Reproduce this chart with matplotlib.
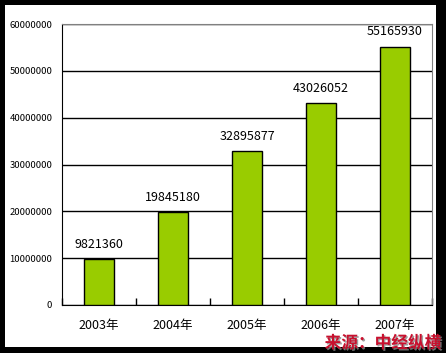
import matplotlib
matplotlib.use('Agg')
import numpy as np
from matplotlib import pyplot as plt
from matplotlib.patches import Rectangle
import matplotlib.patheffects as pe

plt.rcParams['font.family'] = ['Noto Sans CJK SC', 'DejaVu Sans']

years = ['2003年', '2004年', '2005年', '2006年', '2007年']
values = [9821360, 19845180, 32895877, 43026052, 55165930]
yticks = [0, 10000000, 20000000, 30000000, 40000000, 50000000, 60000000]

fig = plt.figure(figsize=(4.46, 3.53), dpi=100)
fig.patch.set_facecolor('black')
# white inner panel
fig.add_artist(Rectangle((5/446, 6/353), 431/446, 342/353, transform=fig.transFigure,
                         facecolor='white', edgecolor='none', zorder=0))

ax = fig.add_axes([62/446, 48/353, 370/446, 281/353])
x = np.arange(len(years))
ax.bar(x, values, width=0.4, color='#99CC00', edgecolor='black', linewidth=1, zorder=3)

for xi, v in zip(x, values):
    ax.annotate(str(v), (xi, v), xytext=(0, 6), textcoords='offset points',
                ha='center', va='bottom', fontsize=9, color='black')

ax.set_xlim(-0.5, len(years) - 0.5)
ax.set_ylim(0, 60000000)
ax.set_yticks(yticks)
ax.set_yticklabels([str(t) for t in yticks], fontsize=6.8)
ax.set_xticks(x)
ax.set_xticklabels(years, fontsize=9)
ax.set_xticks(np.arange(len(years) + 1) - 0.5, minor=True)
ax.tick_params(axis='y', length=0, pad=7)
ax.tick_params(axis='x', which='major', length=0, pad=10)
ax.tick_params(axis='x', which='minor', direction='in', length=5, width=1)
ax.yaxis.grid(True, color='black', linewidth=1, zorder=1)
ax.set_axisbelow(True)
for s in ['left', 'bottom']:
    ax.spines[s].set_color('black')
for s in ['top', 'right']:
    ax.spines[s].set_color('#808080')

fig.text(441/446, 10/353, '来源：中经纵横', ha='right', va='center', fontsize=12,
         fontweight='bold', color='#C8102E',
         path_effects=[pe.withSimplePatchShadow(offset=(1, -1), shadow_rgbFace='#888888', alpha=0.8)])

fig.savefig('out.png', dpi=100, facecolor=fig.get_facecolor())
